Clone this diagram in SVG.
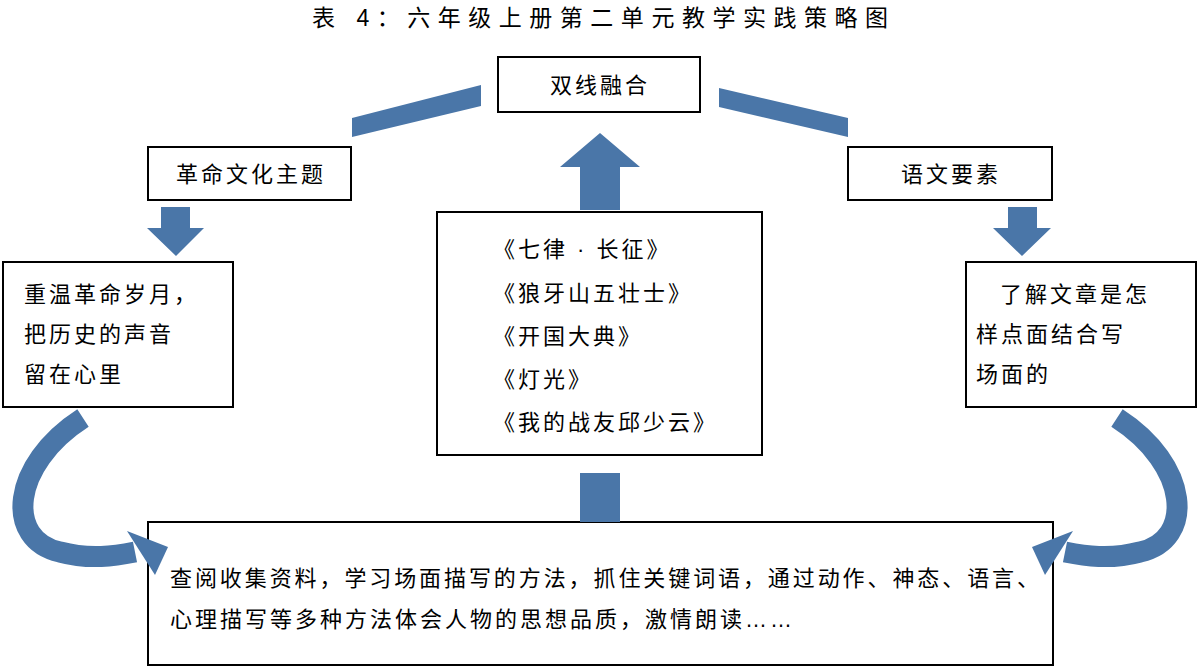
<svg xmlns="http://www.w3.org/2000/svg" width="1200" height="668" viewBox="0 0 1200 668">
<style>
.b{fill:#fff;stroke:#000;stroke-width:2}
.t{font-family:"Liberation Sans","Noto Sans CJK SC",sans-serif;font-size:22px;letter-spacing:3px;fill:#000}
.a{fill:#4A76A8}
.s{fill:none;stroke:#4A76A8;stroke-width:21}
</style>
<rect width="1200" height="668" fill="#fff"/>
<text x="312" y="26" textLength="576" lengthAdjust="spacing" class="t" style="font-size:23px;letter-spacing:0">表 4：六年级上册第二单元教学实践策略图</text>
<g id="n1"><rect class="b" x="498" y="57" width="202" height="55"/><text class="t" x="600" y="93" text-anchor="middle">双线融合</text></g>
<g id="n2"><rect class="b" x="148" y="147" width="203" height="53"/><text class="t" x="251" y="182" text-anchor="middle">革命文化主题</text></g>
<g id="n3"><rect class="b" x="848" y="147" width="204" height="53"/><text class="t" x="951" y="182" text-anchor="middle">语文要素</text></g>
<g id="n4"><rect class="b" x="3" y="262" width="230" height="145"/>
<text class="t" x="24" y="302">重温革命岁月，</text>
<text class="t" x="24" y="342">把历史的声音</text>
<text class="t" x="24" y="382">留在心里</text></g>
<g id="n5"><rect class="b" x="437" y="212" width="325" height="243"/>
<text class="t" x="493" y="257">《七律 · 长征》</text>
<text class="t" x="493" y="301">《狼牙山五壮士》</text>
<text class="t" x="493" y="344">《开国大典》</text>
<text class="t" x="493" y="387">《灯光》</text>
<text class="t" x="493" y="430">《我的战友邱少云》</text></g>
<g id="n6"><rect class="b" x="966" y="262" width="230" height="145"/>
<text class="t" x="1000" y="302">了解文章是怎</text>
<text class="t" x="976" y="342">样点面结合写</text>
<text class="t" x="976" y="382">场面的</text></g>
<g id="n7"><rect class="b" x="148" y="522" width="905" height="143"/>
<text class="t" x="170" y="586" textLength="872" lengthAdjust="spacing">查阅收集资料，学习场面描写的方法，抓住关键词语，通过动作、神态、语言、</text>
<text class="t" x="170" y="627">心理描写等多种方法体会人物的思想品质，激情朗读……</text></g>
<g id="connectors">
<polygon class="a" points="352,118 481,85 481,106 352,137"/>
<polygon class="a" points="719,88 848,118 848,137 719,107"/>
<polygon class="a" points="161,207 190,207 190,228 204,228 176,256 147,228 161,228"/>
<polygon class="a" points="1008,207 1037,207 1037,228 1051,228 1022,256 993,228 1008,228"/>
<polygon class="a" points="580,210 620,210 620,167 640,167 600,133 560,167 580,167"/>
<rect class="a" x="580" y="473" width="40" height="49"/>
<path class="s" d="M83,418 C10,465 5,540 60,552 C90,560 115,556 135,552"/>
<polygon class="a" points="127,531 168,547 155,575"/>
<path class="s" d="M1117,418 C1190,465 1195,540 1140,552 C1110,560 1085,556 1065,552"/>
<polygon class="a" points="1073,531 1032,547 1045,575"/>
</g>
</svg>
